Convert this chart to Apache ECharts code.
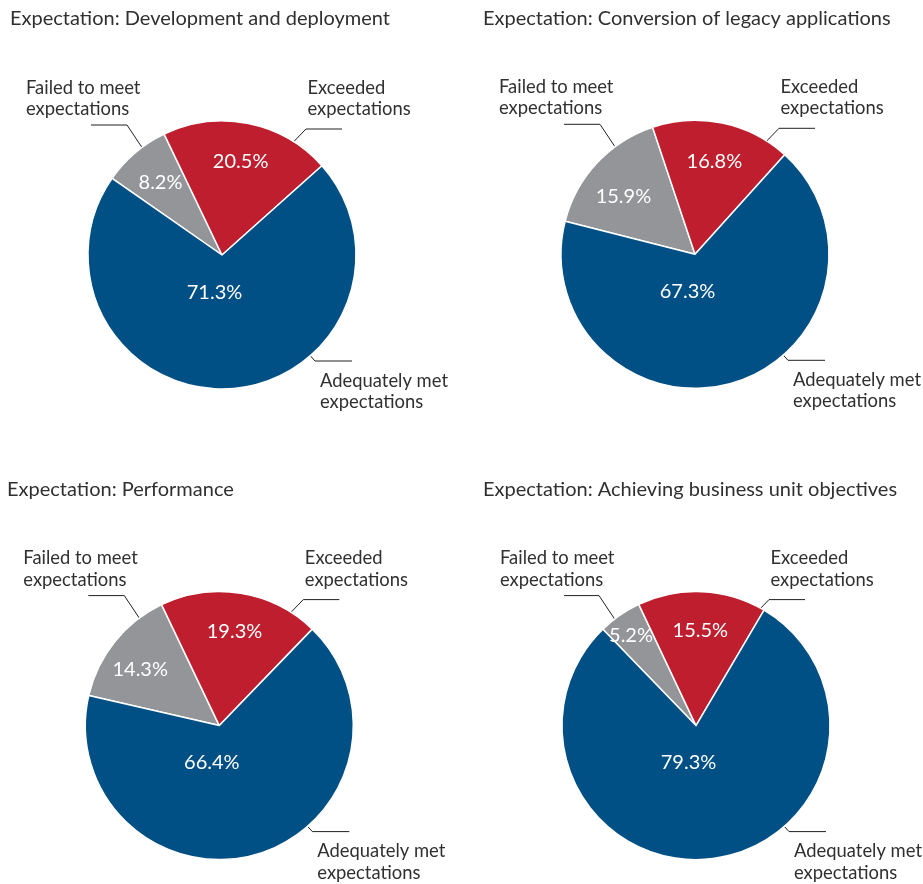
<!DOCTYPE html>
<html><head><meta charset="utf-8">
<script src="https://cdn.jsdelivr.net/npm/echarts@6/dist/echarts.min.js"></script>
<style>html,body{margin:0;padding:0;background:#fff}#c{width:923px;height:884px}</style>
</head><body><div id="c"></div>
<script>
// ---- data ----
const titles = [
  'Expectation: Development and deployment',
  'Expectation: Conversion of legacy applications',
  'Expectation: Performance',
  'Expectation: Achieving business unit objectives'
];
const categories = ['Failed to meet expectations', 'Exceeded expectations', 'Adequately met expectations'];
const categoryLabels = ['Failed to meet\nexpectations', 'Exceeded\nexpectations', 'Adequately met\nexpectations'];
const failedValues   = [8.2, 15.9, 14.3, 5.2];
const exceededValues = [20.5, 16.8, 19.3, 15.5];
const adequateValues = [71.3, 67.3, 66.4, 79.3];

// ---- layout / style ----
const FONT = 'Lato';
const colors = ['#939598', '#BE1E2D', '#004F85'];
const pieCenters = [[222, 255], [695, 254.3], [219.3, 725.6], [696, 725.6]];
const pieRadius = 134;
const ringInner = 50;
const startAngles = [145.1, 165.7, 167, 134];
const titlePos = [[10, 19], [483, 19], [7, 490], [483, 490]];
// callout template, offsets relative to pie centre
const callout = [
  { text: [-196, -156.6], line: [[-71, -94], [-95, -130], [-131, -130]] },
  { text: [85.5, -156.6], line: [[54, -95], [84, -126], [120, -126]] },
  { text: [98, 136.4],    line: [[65, 75], [93, 106], [130, 106]] }
];
const calloutOverride = {
  3: { 0: { line: [[-79, -103], [-97, -130], [-132, -130]] }, 1: { dx: -11 } }
};
const pctNudge = { 1: { 0: [-2, 7] }, 2: { 0: [-5, 3] }, 3: { 0: [-11, -12] } };
const bluePctOffset = [-7.5, 37.3];

function pieData(i, visible) {
  const vals = [failedValues[i], exceededValues[i], adequateValues[i]];
  return categories.map((n, k) => ({
    name: n, value: vals[k],
    itemStyle: { color: visible ? colors[k] : 'rgba(0,0,0,0)', borderWidth: visible ? 1.5 : 0 }
  }));
}

const series = [];
for (let i = 0; i < 4; i++) {
  const c = pieCenters[i];
  series.push({
    type: 'pie', center: c, radius: [0, pieRadius], startAngle: startAngles[i], clockwise: true,
    avoidLabelOverlap: false, animation: false,
    data: pieData(i, true),
    itemStyle: { borderColor: '#ffffff', borderWidth: 1.5 },
    emphasis: { disabled: true },
    label: {
      show: true, position: 'outside', overflow: 'none',
      formatter: p => categoryLabels[p.dataIndex],
      fontFamily: FONT, fontSize: 18.4, lineHeight: 21.5, color: '#303030'
    },
    labelLine: { show: true, length: 10, length2: 10, smooth: false, lineStyle: { color: '#231f20', width: 1 } },
    labelLayout: function (p) {
      const k = p.dataIndex, t = callout[k];
      const ov = (calloutOverride[i] || {})[k] || {};
      const dx = ov.dx || 0;
      const pts = ov.line ? ov.line : t.line.map(q => [q[0] + dx, q[1]]);
      return {
        x: c[0] + t.text[0] + dx, y: c[1] + t.text[1], align: 'left', verticalAlign: 'middle',
        labelLinePoints: pts.map(q => [c[0] + q[0], c[1] + q[1]])
      };
    }
  });
  series.push({
    type: 'pie', center: c, radius: [ringInner, pieRadius], startAngle: startAngles[i], clockwise: true,
    avoidLabelOverlap: false, animation: false, silent: true,
    data: pieData(i, false),
    itemStyle: { color: 'rgba(0,0,0,0)', borderWidth: 0 },
    emphasis: { disabled: true },
    label: { show: true, position: 'inside', formatter: '{c}%', color: '#ffffff', fontFamily: FONT, fontSize: 20 },
    labelLine: { show: false },
    labelLayout: function (p) {
      if (p.dataIndex === 2) return { x: c[0] + bluePctOffset[0], y: c[1] + bluePctOffset[1], align: 'center', verticalAlign: 'middle' };
      const n = (pctNudge[i] || {})[p.dataIndex];
      return n ? { dx: n[0], dy: n[1] } : {};
    }
  });
}

const chart = echarts.init(document.getElementById('c'), null, { renderer: 'canvas' });
chart.setOption({
  animation: false,
  backgroundColor: '#ffffff',
  title: titles.map((t, i) => ({
    text: t, left: titlePos[i][0], top: titlePos[i][1] - 12, padding: 0,
    textStyle: { fontFamily: FONT, fontSize: 20, fontWeight: 'normal', color: '#303030', lineHeight: 24 }
  })),
  series: series
});
</script>
</body></html>
